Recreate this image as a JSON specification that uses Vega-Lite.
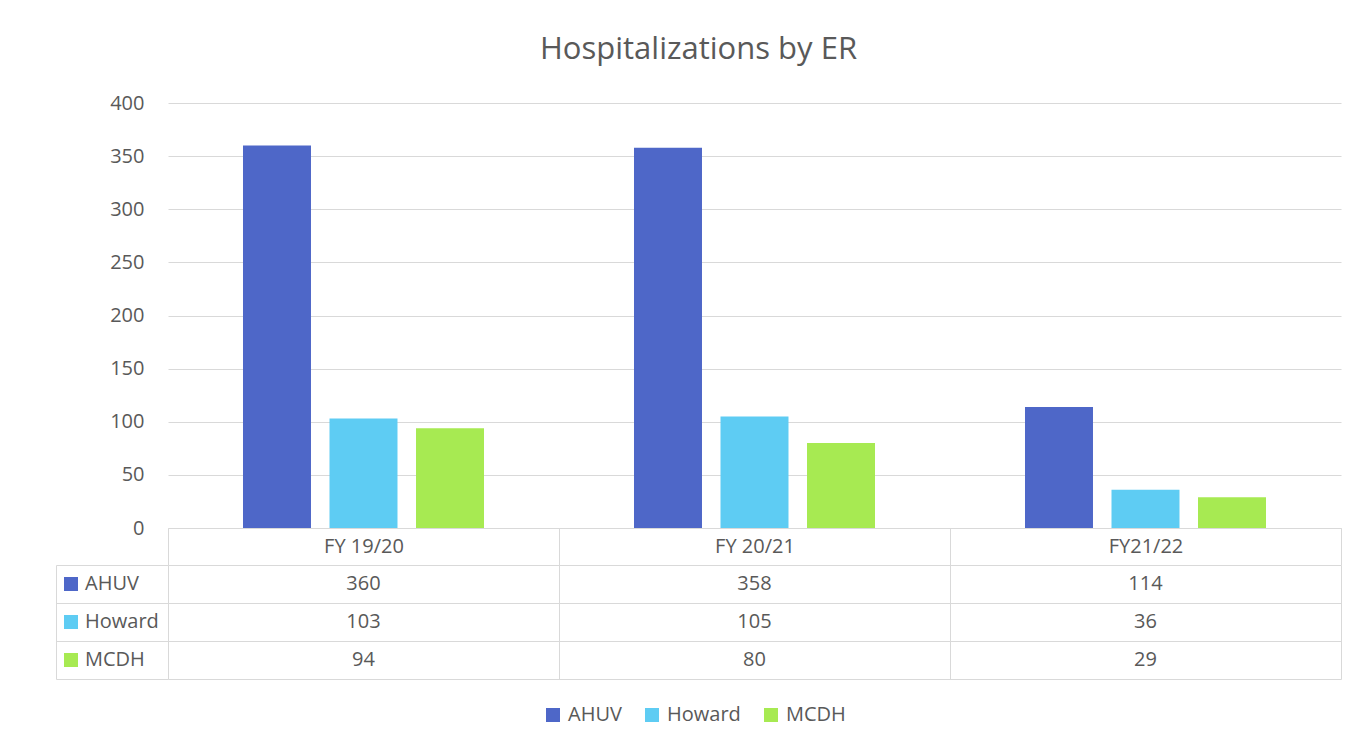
{
  "$schema": "https://vega.github.io/schema/vega-lite/v6.json",
  "padding": {"left": 55, "top": 34, "right": 12, "bottom": 5},
  "background": "white",
  "title": {
    "text": "Hospitalizations by ER",
    "fontSize": 31,
    "font": "Open Sans",
    "fontWeight": "normal",
    "color": "#595959",
    "anchor": "middle",
    "frame": "bounds",
    "offset": 27
  },
  "data": {
    "values": [
      {"period": "FY 19/20", "series": "AHUV", "value": 360},
      {"period": "FY 19/20", "series": "Howard", "value": 103},
      {"period": "FY 19/20", "series": "MCDH", "value": 94},
      {"period": "FY 20/21", "series": "AHUV", "value": 358},
      {"period": "FY 20/21", "series": "Howard", "value": 105},
      {"period": "FY 20/21", "series": "MCDH", "value": 80},
      {"period": "FY21/22", "series": "AHUV", "value": 114},
      {"period": "FY21/22", "series": "Howard", "value": 36},
      {"period": "FY21/22", "series": "MCDH", "value": 29}
    ]
  },
  "bounds": "flush",
  "spacing": 37,
  "resolve": {"scale": {"color": "independent"}, "legend": {"color": "independent"}},
  "vconcat": [
    {
      "width": 1173,
      "height": 425,
      "mark": {"type": "bar"},
      "encoding": {
        "x": {
          "field": "period", "type": "nominal", "sort": null,
          "scale": {"paddingInner": 0, "paddingOuter": 0},
          "axis": {
            "title": null, "labelAngle": 0, "domain": true, "domainColor": "#d9d9d9",
            "ticks": true, "tickBand": "extent", "tickSize": 37, "tickColor": "#d9d9d9",
            "labelPadding": -18.5, "labelBaseline": "middle", "labelFontSize": 20,
            "labelColor": "#595959", "grid": false
          }
        },
        "xOffset": {
          "field": "series", "type": "nominal", "sort": null,
          "scale": {"paddingInner": 0.214, "paddingOuter": 0.867}
        },
        "y": {
          "field": "value", "type": "quantitative",
          "scale": {"domain": [0, 400], "nice": false},
          "axis": {
            "title": null, "values": [0, 50, 100, 150, 200, 250, 300, 350, 400],
            "domain": false, "ticks": false, "grid": true, "gridColor": "#d9d9d9",
            "labelPadding": 24, "labelFontSize": 20, "labelColor": "#595959"
          }
        },
        "color": {
          "field": "series", "type": "nominal",
          "scale": {"domain": ["AHUV", "Howard", "MCDH"], "range": ["#4e67c8", "#5eccf3", "#a7ea52"]},
          "legend": {
            "title": null, "orient": "none", "direction": "horizontal",
            "legendX": 375, "legendY": 602,
            "symbolType": "square", "symbolSize": 196, "symbolStrokeWidth": 0,
            "labelFontSize": 20, "labelColor": "#595959", "labelOffset": 5,
            "columnPadding": 20
          }
        }
      }
    },
    {
      "width": 1173,
      "height": 114,
      "layer": [
        {
          "mark": {"type": "text", "fontSize": 20, "color": "#595959", "font": "Open Sans"},
          "encoding": {
            "x": {
              "field": "period", "type": "nominal", "sort": null,
              "scale": {"paddingInner": 0, "paddingOuter": 0},
              "axis": {
                "title": null, "labels": false, "ticks": false, "domain": false,
                "grid": true, "gridColor": "#d9d9d9", "tickBand": "extent"
              }
            },
            "y": {
              "field": "series", "type": "nominal", "sort": null,
              "scale": {"paddingInner": 0, "paddingOuter": 0},
              "axis": {
                "title": null, "labels": false, "offset": 112,
                "domain": true, "domainColor": "#d9d9d9",
                "ticks": true, "tickSize": -112, "tickColor": "#d9d9d9", "tickBand": "extent",
                "grid": true, "gridColor": "#d9d9d9"
              }
            },
            "text": {"field": "value", "type": "quantitative"}
          }
        },
        {
          "transform": [{"filter": "false"}],
          "mark": {"type": "square"},
          "encoding": {
            "color": {
              "field": "series", "type": "nominal",
              "scale": {"domain": ["AHUV", "Howard", "MCDH"], "range": ["#4e67c8", "#5eccf3", "#a7ea52"]},
              "legend": {
                "title": null, "orient": "none", "direction": "vertical",
                "legendX": -107, "legendY": 9,
                "symbolType": "square", "symbolSize": 196, "symbolStrokeWidth": 0,
                "symbolOpacity": 1,
                "labelFontSize": 20, "labelColor": "#595959", "labelOffset": 4,
                "rowPadding": 18
              }
            }
          }
        }
      ]
    }
  ],
  "config": {
    "font": "Open Sans",
    "view": {"stroke": null},
    "axis": {"labelFont": "Open Sans"},
    "legend": {"labelFont": "Open Sans"}
  }
}
